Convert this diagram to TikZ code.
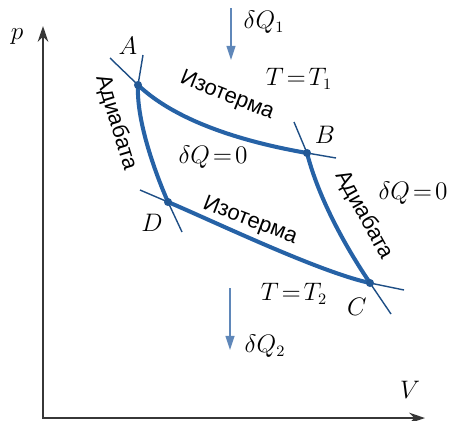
\documentclass[tikz,border=0pt]{standalone}
\usepackage{fontspec}
\newfontfamily\cyrsf{Liberation Sans}
\usetikzlibrary{arrows.meta}

\definecolor{cycleblue}{RGB}{38,98,166}
\definecolor{heatblue}{RGB}{95,135,185}
\definecolor{axisgray}{RGB}{55,55,55}

\begin{document}
\begin{tikzpicture}[x=0.02cm, y=-0.02cm,
  axis/.style={axisgray, line width=1.3pt, {Stealth[length=9pt,width=6pt]}-{Stealth[length=9pt,width=6pt]}},
  process/.style={cycleblue, line width=2.3pt},
  guide/.style={cycleblue!80!black, line width=0.8pt},
  heat/.style={heatblue, line width=1.1pt, -{Triangle[length=8pt,width=5pt]}},
  lbl/.style={font=\fontsize{13.5}{15}\selectfont, inner sep=1pt},
  curvelbl/.style={font=\cyrsf\fontsize{12.5}{14}\selectfont, inner sep=1pt}]
  \useasboundingbox (0,0) rectangle (459,420);

  % axes
  \coordinate (O) at (43,418);
  \coordinate (pEnd) at (43,26);
  \coordinate (VEnd) at (425,418);
  \draw[axis] (pEnd) -- (O) -- (VEnd);
  \node[lbl] (pLbl) at (17,37) {$p$};
  \node[lbl] (VLbl) at (410,390) {$V$};

  % states of the cycle
  \coordinate (A) at (138,85);
  \coordinate (B) at (307,153);
  \coordinate (C) at (370,283);
  \coordinate (D) at (168,202);

  % ends of the thin continuations
  \coordinate (a1) at (110,58);   % isotherm T1
  \coordinate (a2) at (143,55);   % adiabat AD
  \coordinate (b1) at (336,158);  % isotherm T1
  \coordinate (b2) at (294,122);  % adiabat BC
  \coordinate (c1) at (404,290);  % isotherm T2
  \coordinate (c2) at (391,314);  % adiabat BC
  \coordinate (d1) at (140,190);  % isotherm T2
  \coordinate (d2) at (182,232);  % adiabat AD

  \draw[guide] (a1) -- (A);
  \draw[guide] (a2) -- (A);
  \draw[guide] (b1) -- (B);
  \draw[guide] (b2) -- (B);
  \draw[guide] (c1) -- (C);
  \draw[guide] (c2) -- (C);
  \draw[guide] (d1) -- (D);
  \draw[guide] (d2) -- (D);

  % the cycle
  \draw[process] (A) .. controls (180,125) and (255,144) .. (B);
  \draw[process] (B) .. controls (318,196) and (343,243) .. (C);
  \draw[process] (D) .. controls (213,221) and (319,272) .. (C);
  \draw[process] (A) .. controls (136,125) and (160,184) .. (D);

  \foreach \pt in {A,B,C,D}
    \fill[cycleblue!90!black] (\pt) circle[radius=2.3pt];

  \node[lbl] (ALbl) at (128,46) {$A$};
  \node[lbl] (BLbl) at (325,135) {$B$};
  \node[lbl] (CLbl) at (357,307) {$C$};
  \node[lbl] (DLbl) at (152,223) {$D$};

  % names of the curves
  \node[curvelbl, rotate=-21.6] (isoTop) at (227,96) {Изотерма};
  \node[curvelbl, rotate=-21] (isoBot) at (250,221) {Изотерма};
  \node[curvelbl, rotate=-73] (adiLeft) at (116,123) {Адиабата};
  \node[curvelbl, rotate=-61] (adiRight) at (364,215) {Адиабата};

  \node[lbl] (q0in) at (213,157) {$\delta Q\!=\!0$};
  \node[lbl] (q0out) at (413,193) {$\delta Q\!=\!0$};
  \node[lbl] (T1Lbl) at (299,79) {$T\!=\!T_1$};
  \node[lbl] (T2Lbl) at (294,294) {$T\!=\!T_2$};

  % heat flows
  \coordinate (q1top) at (231,8);
  \coordinate (q1tip) at (231,60);
  \coordinate (q2top) at (230,288);
  \coordinate (q2tip) at (230,350);
  \draw[heat] (q1top) -- (q1tip);
  \draw[heat] (q2top) -- (q2tip);
  \node[lbl] (dQ1) at (264,22) {$\delta Q_1$};
  \node[lbl] (dQ2) at (265,346) {$\delta Q_2$};
\end{tikzpicture}
\end{document}
